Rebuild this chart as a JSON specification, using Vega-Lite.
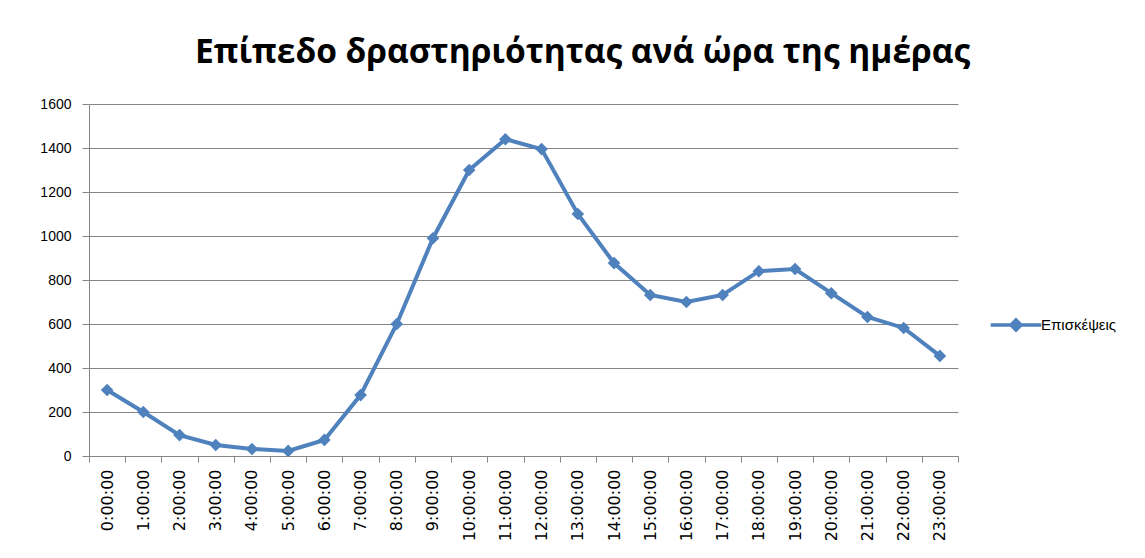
{
  "$schema": "https://vega.github.io/schema/vega-lite/v6.json",
  "width": 869,
  "height": 352,
  "autosize": {"type": "none"},
  "padding": {"left": 89, "top": 104, "right": 187, "bottom": 102},
  "background": "white",
  "title": {
    "text": "Επίπεδο δραστηριότητας ανά ώρα της ημέρας",
    "font": "Open Sans",
    "fontSize": 33.5,
    "fontWeight": "bold",
    "color": "#000000",
    "anchor": "middle",
    "dx": 59,
    "offset": 27
  },
  "data": {
    "values": [
      {"hour": "0:00:00", "visits": 300, "series": "Επισκέψεις"},
      {"hour": "1:00:00", "visits": 200, "series": "Επισκέψεις"},
      {"hour": "2:00:00", "visits": 95, "series": "Επισκέψεις"},
      {"hour": "3:00:00", "visits": 50, "series": "Επισκέψεις"},
      {"hour": "4:00:00", "visits": 32, "series": "Επισκέψεις"},
      {"hour": "5:00:00", "visits": 23, "series": "Επισκέψεις"},
      {"hour": "6:00:00", "visits": 73, "series": "Επισκέψεις"},
      {"hour": "7:00:00", "visits": 277, "series": "Επισκέψεις"},
      {"hour": "8:00:00", "visits": 600, "series": "Επισκέψεις"},
      {"hour": "9:00:00", "visits": 990, "series": "Επισκέψεις"},
      {"hour": "10:00:00", "visits": 1300, "series": "Επισκέψεις"},
      {"hour": "11:00:00", "visits": 1440, "series": "Επισκέψεις"},
      {"hour": "12:00:00", "visits": 1395, "series": "Επισκέψεις"},
      {"hour": "13:00:00", "visits": 1100, "series": "Επισκέψεις"},
      {"hour": "14:00:00", "visits": 877, "series": "Επισκέψεις"},
      {"hour": "15:00:00", "visits": 732, "series": "Επισκέψεις"},
      {"hour": "16:00:00", "visits": 700, "series": "Επισκέψεις"},
      {"hour": "17:00:00", "visits": 732, "series": "Επισκέψεις"},
      {"hour": "18:00:00", "visits": 840, "series": "Επισκέψεις"},
      {"hour": "19:00:00", "visits": 850, "series": "Επισκέψεις"},
      {"hour": "20:00:00", "visits": 740, "series": "Επισκέψεις"},
      {"hour": "21:00:00", "visits": 632, "series": "Επισκέψεις"},
      {"hour": "22:00:00", "visits": 582, "series": "Επισκέψεις"},
      {"hour": "23:00:00", "visits": 455, "series": "Επισκέψεις"}
    ]
  },
  "encoding": {
    "x": {
      "field": "hour",
      "type": "ordinal",
      "sort": null,
      "scale": {"type": "band", "paddingInner": 0, "paddingOuter": 0},
      "axis": {
        "title": null,
        "tickBand": "extent",
        "labelAngle": -90,
        "labelAlign": "right",
        "labelBaseline": "middle",
        "labelFont": "DejaVu Sans",
        "labelFontSize": 16,
        "labelColor": "#000000",
        "labelPadding": 7,
        "tickSize": 6,
        "tickColor": "#868686",
        "domainColor": "#868686",
        "grid": false
      }
    },
    "y": {
      "field": "visits",
      "type": "quantitative",
      "scale": {"domain": [0, 1600], "nice": false},
      "axis": {
        "title": null,
        "format": "d",
        "values": [0, 200, 400, 600, 800, 1000, 1200, 1400, 1600],
        "labelFont": "Liberation Sans",
        "labelFontSize": 14,
        "labelColor": "#000000",
        "labelPadding": 11,
        "tickSize": 7,
        "tickColor": "#868686",
        "domainColor": "#868686",
        "gridColor": "#868686",
        "gridOpacity": 1
      }
    },
    "color": {
      "field": "series",
      "type": "nominal",
      "scale": {"range": ["#4F81BD"]},
      "legend": {
        "title": null,
        "orient": "none",
        "legendX": 909,
        "legendY": 203,
        "symbolType": "M-1.6,0H1.6M0,-0.32L0.32,0L0,0.32L-0.32,0Z",
        "symbolSize": 1000,
        "symbolStrokeWidth": 3.5,
        "symbolFillColor": "#4F81BD",
        "labelFont": "Liberation Sans",
        "labelFontSize": 15,
        "labelColor": "#000000",
        "labelOffset": 7
      }
    }
  },
  "layer": [
    {"mark": {"type": "line", "strokeWidth": 4}},
    {"mark": {"type": "point", "shape": "diamond", "filled": true, "size": 160, "opacity": 1}}
  ],
  "config": {"view": {"stroke": null}}
}
